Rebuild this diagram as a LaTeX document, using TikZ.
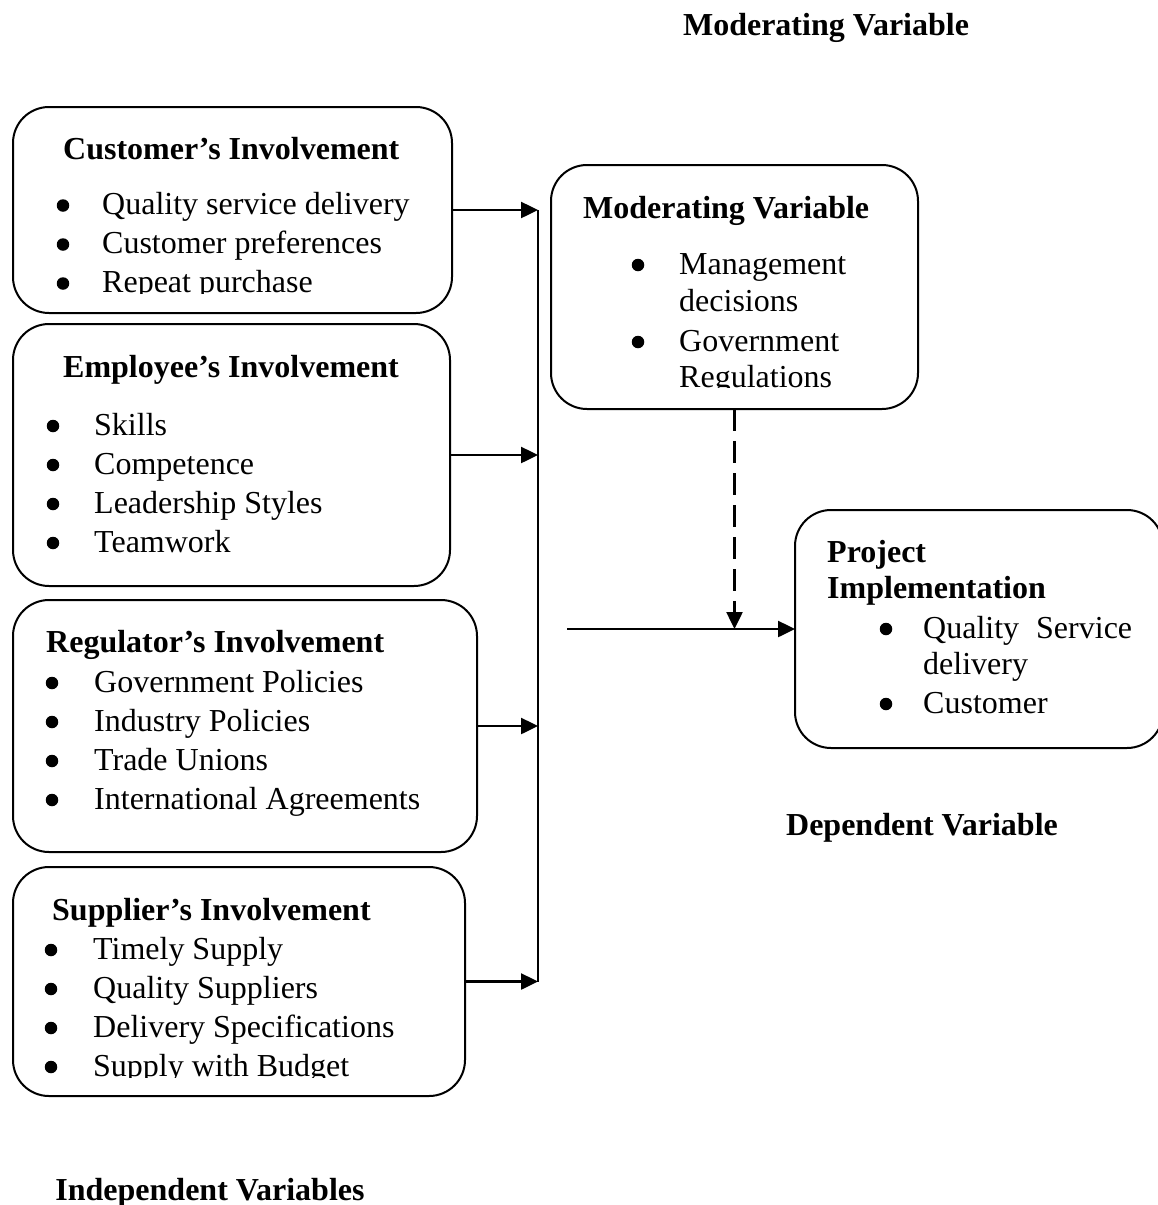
\documentclass[tikz,border=0pt]{standalone}
\usepackage{fontspec}
\setmainfont{Liberation Serif}
\usetikzlibrary{arrows.meta}
\begin{document}
\begin{tikzpicture}[x=1pt,y=-1pt,
  font=\fontsize{32}{38}\selectfont,
  box/.style={draw, line width=2pt, rounded corners=36pt, inner sep=0pt, outer sep=0pt, anchor=north west},
  tx/.style={anchor=base west, inner sep=0pt},
  hd/.style={anchor=base west, inner sep=0pt, font=\fontsize{32}{38}\selectfont\bfseries},
  lbl/.style={anchor=base, inner sep=0pt, font=\fontsize{32}{38}\selectfont\bfseries},
  bul/.style={circle, fill, inner sep=0pt, minimum size=12.5pt, yshift=9pt},
  conn/.style={line width=2.5pt},
  arr/.style={line width=2.5pt, -{Triangle[length=17pt,width=16pt]}},
  darr/.style={line width=2.5pt, dash pattern=on 22pt off 10pt, -{Triangle[length=17pt,width=16pt]}}
]
\useasboundingbox (0,0) rectangle (1158,1205);

% boxes
\node[box, minimum width=439pt, minimum height=206pt] (cust) at (13,107) {};
\node[box, minimum width=437pt, minimum height=262pt] (emp) at (13,324) {};
\node[box, minimum width=464pt, minimum height=252pt] (reg) at (13,600) {};
\node[box, minimum width=452pt, minimum height=229pt] (sup) at (13,867) {};
\node[box, minimum width=367pt, minimum height=244pt] (mod) at (551,165) {};
\node[box, minimum width=368pt, minimum height=238pt] (proj) at (795,510) {};

% customer
\begin{scope}
\clip (0,100) rectangle (460,293);
\node[hd] (custh) at (63,159) {Customer’s Involvement};
\node[bul] (cb1) at (63,214.5) {}; \node[tx] (ct1) at (102,214.5) {Quality service delivery};
\node[bul] (cb2) at (63,253.5) {}; \node[tx] (ct2) at (102,253.5) {Customer preferences};
\node[bul] (cb3) at (63,292.5) {}; \node[tx] (ct3) at (102,292.5) {Repeat purchase};
\end{scope}

% employee
\node[hd] (emph) at (63,377) {Employee’s Involvement};
\node[bul] (eb1) at (53,435) {}; \node[tx] (et1) at (94,435) {Skills};
\node[bul] (eb2) at (53,474) {}; \node[tx] (et2) at (94,474) {Competence};
\node[bul] (eb3) at (53,513) {}; \node[tx] (et3) at (94,513) {Leadership Styles};
\node[bul] (eb4) at (53,552) {}; \node[tx] (et4) at (94,552) {Teamwork};

% regulator
\node[hd] (regh) at (46,652) {Regulator’s Involvement};
\node[bul] (rb1) at (52,692) {}; \node[tx] (rt1) at (94,692) {Government Policies};
\node[bul] (rb2) at (52,731) {}; \node[tx] (rt2) at (94,731) {Industry Policies};
\node[bul] (rb3) at (52,770) {}; \node[tx] (rt3) at (94,770) {Trade Unions};
\node[bul] (rb4) at (52,809) {}; \node[tx] (rt4) at (94,809) {International Agreements};

% supplier
\begin{scope}
\clip (0,860) rectangle (480,1077);
\node[hd] (suph) at (52,920) {Supplier’s Involvement};
\node[bul] (sb1) at (51,959) {}; \node[tx] (st1) at (93,959) {Timely Supply};
\node[bul] (sb2) at (51,998) {}; \node[tx] (st2) at (93,998) {Quality Suppliers};
\node[bul] (sb3) at (51,1037) {}; \node[tx] (st3) at (93,1037) {Delivery Specifications};
\node[bul] (sb4) at (51,1076) {}; \node[tx] (st4) at (93,1076) {Supply with Budget};
\end{scope}

% moderating
\begin{scope}
\clip (540,150) rectangle (930,387);
\node[hd] (modh) at (583,218) {Moderating Variable};
\node[bul] (mb1) at (638,274) {}; \node[tx] (mt1) at (679,274) {Management};
\node[tx] (mt1b) at (679,311) {decisions};
\node[bul] (mb2) at (638,351) {}; \node[tx] (mt2) at (679,351) {Government};
\node[tx] (mt2b) at (679,387) {Regulations};
\end{scope}

% project
\node[hd] (projh1) at (827,562) {Project};
\node[hd] (projh2) at (827,598) {Implementation};
\node[bul] (pb1) at (886,638) {}; \node[tx] (pt1) at (923,638) {Quality\hspace{17pt}Service};
\node[tx] (pt1b) at (923,674) {delivery};
\node[bul] (pb2) at (886,713) {}; \node[tx] (pt2) at (923,713) {Customer};

% labels
\node[lbl] (lmod) at (826,35) {Moderating Variable};
\node[lbl] (ldep) at (922,835) {Dependent Variable};
\node[lbl] (lind) at (210,1200) {Independent Variables};

% connectors
\coordinate (b1) at (538,210);
\coordinate (b2) at (538,455);
\coordinate (b3) at (538,726);
\coordinate (b4) at (538,981.5);
\draw[conn] (b1) -- (b4);
\draw[arr] (cust.east) -- (b1);
\draw[arr] (emp.east) -- (b2);
\draw[arr] (reg.east) -- (b3);
\draw[arr] (sup.east) -- (b4);
\coordinate (m) at (567,629);
\draw[arr] (m) -- (proj.west);
\draw[darr] (mod.south) -- (mod.south |- m);
\end{tikzpicture}
\end{document}
